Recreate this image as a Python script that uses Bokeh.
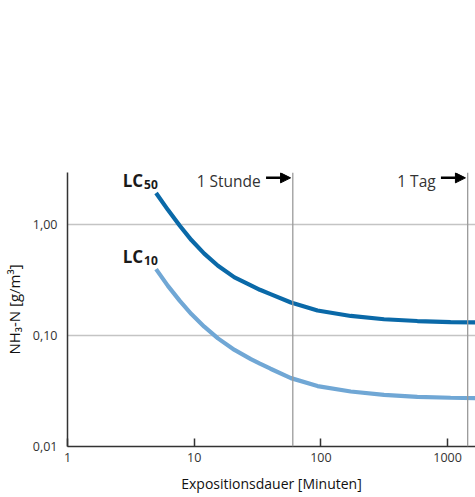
from bokeh.plotting import figure
from bokeh.models import Range1d, FixedTicker, Span, Label, Arrow, NormalHead
from bokeh.embed import file_html
from bokeh.resources import INLINE

# Data (exposure time in minutes, concentration NH3-N in g/m3)
minutes = [5, 6.2, 7.7, 9.5, 12, 15.4, 20.8, 28, 33, 40, 58, 94, 172, 315, 577, 1056, 1660]
lc50 = [1.92, 1.355, 0.975, 0.724, 0.546, 0.425, 0.334, 0.283, 0.258, 0.236, 0.198, 0.168,
        0.150, 0.140, 0.135, 0.132, 0.1315]
lc10 = [0.396, 0.280, 0.205, 0.156, 0.120, 0.0942, 0.0741, 0.0612, 0.0558, 0.0502, 0.0413,
        0.0350, 0.0313, 0.0292, 0.0280, 0.0275, 0.0273]

x_ticks = [1, 10, 100, 1000]
x_tick_labels = ["1", "10", "100", "1000"]
y_ticks = [0.01, 0.1, 1.0]
y_tick_labels = ["0,01", "0,10", "1,00"]
markers = [60, 1440]
marker_labels = ["1 Stunde", "1 Tag"]

FONT = "Open Sans"
TXT = "#333333"

p = figure(width=475, height=497, x_axis_type="log", y_axis_type="log",
           x_range=Range1d(1, 1660), y_range=Range1d(0.01, 2.94),
           output_backend="svg", toolbar_location=None,
           min_border_left=66, min_border_right=0, min_border_top=172, min_border_bottom=51)
p.outline_line_color = None
p.background_fill_color = "white"

# grid
p.xgrid.visible = False
p.ygrid.ticker = FixedTicker(ticks=[0.1, 1.0])
p.ygrid.grid_line_color = "#c4c4c4"
p.ygrid.grid_line_width = 1.5

for m in markers:
    p.add_layout(Span(location=m, dimension="height", line_color="#9a9a9a", line_width=1.3))

# axes
p.xaxis.ticker = FixedTicker(ticks=x_ticks)
p.xaxis.major_label_overrides = {t: l for t, l in zip(x_ticks, x_tick_labels)}
p.yaxis.ticker = FixedTicker(ticks=y_ticks)
p.yaxis.major_label_overrides = {t: l for t, l in zip(y_ticks, y_tick_labels)}
for ax in (p.xaxis, p.yaxis):
    ax.axis_line_color = "#333333"
    ax.axis_line_width = 1.5
    ax.major_tick_line_color = "#333333"
    ax.major_tick_line_width = 1.5
    ax.minor_tick_line_color = None
    ax.major_label_text_font = FONT
    ax.major_label_text_font_size = "12.5px"
    ax.major_label_text_color = TXT
    ax.axis_label_text_font = FONT
    ax.axis_label_text_font_style = "normal"
    ax.axis_label_text_color = "#111111"
p.xaxis.axis_label_text_font_size = "14px"
p.yaxis.axis_label_text_font_size = "15px"
p.xaxis.major_tick_in = 8
p.xaxis.major_tick_out = 0
p.yaxis.major_tick_in = 0
p.yaxis.major_tick_out = 0
p.xaxis.major_label_standoff = 6
p.yaxis.major_label_standoff = 10
p.xaxis.axis_label = "Expositionsdauer [Minuten]"
p.yaxis.axis_label = "NH₃-N [g/m³]"
p.xaxis.axis_label_standoff = 9
p.yaxis.axis_label_standoff = 6

# curves
p.line(minutes, lc50, line_color="#0a69a8", line_width=4.2)
p.line(minutes, lc10, line_color="#70a7d5", line_width=4.2)

# curve labels
def lc_label(x, y, ysub, sub):
    p.add_layout(Label(x=x, y=y, text="LC", text_align="right", text_baseline="alphabetic",
                       text_font=FONT, text_font_size="17px", text_font_style="bold", text_color="#1a1a1a"))
    p.add_layout(Label(x=x, y=ysub, x_offset=1, text=sub, text_align="left", text_baseline="alphabetic",
                       text_font=FONT, text_font_size="12px", text_font_style="bold", text_color="#1a1a1a"))

lc_label(3.95, 2.48, 2.30, "50")
lc_label(3.95, 0.512, 0.476, "10")

# time markers
for m, lab in zip(markers, marker_labels):
    p.add_layout(Label(x=m, y=2.48, x_offset=-32, text=lab, text_align="right", text_baseline="alphabetic",
                       text_font=FONT, text_font_size="15.5px", text_color=TXT))
    p.add_layout(Arrow(x_start=m * 0.615, y_start=2.63, x_end=m * 0.96, y_end=2.63,
                       line_color="black", line_width=2.5,
                       end=NormalHead(size=10, fill_color="black", line_color="black")))

open("out.html", "w").write(file_html(p, INLINE))
